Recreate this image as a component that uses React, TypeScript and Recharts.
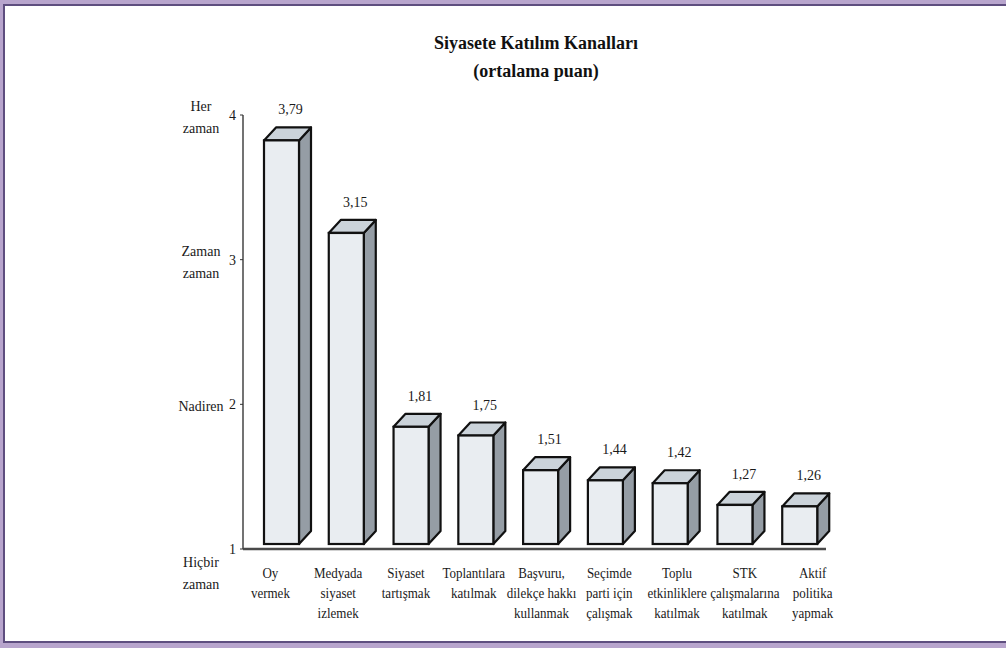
import { Bar, BarChart, LabelList, XAxis, YAxis } from "recharts";

const categories = [
  "Oy\nvermek",
  "Medyada\nsiyaset\nizlemek",
  "Siyaset\ntartışmak",
  "Toplantılara\nkatılmak",
  "Başvuru,\ndilekçe hakkı\nkullanmak",
  "Seçimde\nparti için\nçalışmak",
  "Toplu\netkinliklere\nkatılmak",
  "STK\nçalışmalarına\nkatılmak",
  "Aktif\npolitika\nyapmak",
];
const values = [3.79, 3.15, 1.81, 1.75, 1.51, 1.44, 1.42, 1.27, 1.26];
const yTicks = [1, 2, 3, 4];
const yTickNames = ["Hiçbir\nzaman", "Nadiren", "Zaman\nzaman", "Her\nzaman"];

const data = categories.map((name, i) => ({ name, value: values[i] }));

const FONT = "'Liberation Serif', 'Times New Roman', serif";
const SHIFT = 6; // front face offset inside band
const DX = 12; // depth x
const DY = 13; // depth y
const LIFT = 5;

function Box3D(props: any) {
  const { x, y, width, height } = props;
  if (height == null || height <= 0) return null;
  const fx = x + SHIFT;
  const fy = y - LIFT;
  const fb = y + height - LIFT;
  const w = width;
  const stroke = "#111";
  const sw = 2.2;
  return (
    <g>
      <polygon
        points={`${fx + w},${fy} ${fx + w + DX},${fy - DY} ${fx + w + DX},${fb - DY} ${fx + w},${fb}`}
        fill="#959da5"
        stroke={stroke}
        strokeWidth={sw}
        strokeLinejoin="round"
      />
      <polygon
        points={`${fx},${fy} ${fx + DX},${fy - DY} ${fx + w + DX},${fy - DY} ${fx + w},${fy}`}
        fill="#cbd3da"
        stroke={stroke}
        strokeWidth={sw}
        strokeLinejoin="round"
      />
      <rect x={fx} y={fy} width={w} height={fb - fy} fill="#e9edf1" stroke={stroke} strokeWidth={sw} />
    </g>
  );
}

function YTick(props: any) {
  const { x, y, payload, index } = props;
  const lines = yTickNames[index].split("\n");
  const center = index === 0 ? y + 24 : y + 2;
  const start = center - ((lines.length - 1) * 22) / 2;
  return (
    <g>
      <text x={x} y={y} dy="0.35em" textAnchor="end" fontFamily={FONT} fontSize={14} fill="#1a1a1a">
        {payload.value}
      </text>
      {lines.map((l: string, i: number) => (
        <text
          key={i}
          x={x - 35}
          y={start + i * 22}
          dy="0.35em"
          textAnchor="middle"
          fontFamily={FONT}
          fontSize={14}
          fill="#1a1a1a"
        >
          {l}
        </text>
      ))}
    </g>
  );
}

function XTick(props: any) {
  const { x, y, payload, index } = props;
  const lines = String(payload.value).split("\n");
  const cx = x - 5 + index * 3;
  return (
    <g>
      {lines.map((l: string, i: number) => (
        <text
          key={i}
          transform={`translate(${cx} ${y + 29 + i * 20}) scale(0.93 1)`}
          textAnchor="middle"
          fontFamily={FONT}
          fontSize={14}
          fill="#1a1a1a"
        >
          {l}
        </text>
      ))}
    </g>
  );
}

function ValueLabel(props: any) {
  const { x, y, width, value } = props;
  return (
    <text
      x={x + width / 2 + SHIFT + 9}
      y={y - 31}
      textAnchor="middle"
      fontFamily={FONT}
      fontSize={14}
      fill="#1a1a1a"
    >
      {String(value).replace(".", ",")}
    </text>
  );
}

export default function App() {
  return (
    <div
      style={{
        position: "absolute",
        top: 0,
        left: 0,
        width: 1006,
        height: 648,
        background: "#b8a5cd",
        overflow: "hidden",
      }}
    >
      <div
        style={{
          position: "absolute",
          left: 3,
          top: 4,
          width: 1010,
          height: 639,
          boxSizing: "border-box",
          background: "#fff",
          borderTop: "2px solid #5e4e7f",
          borderLeft: "2px solid #5e4e7f",
          borderBottom: "2px solid #5e4e7f",
        }}
      />
      <div
        style={{
          position: "absolute",
          left: 0,
          width: 1072,
          top: 29,
          textAlign: "center",
          fontFamily: FONT,
          fontWeight: "bold",
          fontSize: 18,
          lineHeight: "28px",
          color: "#111",
        }}
      >
        <div>Siyasete Katılım Kanalları</div>
        <div>(ortalama puan)</div>
      </div>
      <div style={{ position: "absolute", left: 0, top: 0 }}>
        <BarChart
          width={1006}
          height={648}
          data={data}
          margin={{ top: 115, right: 180, bottom: 19, left: 0 }}
          barSize={35}
        >
          <XAxis
            dataKey="name"
            height={80}
            interval={0}
            tickLine={false}
            tickSize={0}
            tickMargin={0}
            axisLine={{ stroke: "#4a4a4a", strokeWidth: 2.5 }}
            tick={<XTick />}
          />
          <YAxis
            width={243}
            domain={[1, 4]}
            ticks={yTicks}
            interval={0}
            tickSize={3}
            tickMargin={4}
            tickLine={{ stroke: "#333" }}
            axisLine={{ stroke: "#444", strokeWidth: 1.5 }}
            tick={<YTick />}
          />
          <Bar dataKey="value" shape={<Box3D />} isAnimationActive={false}>
            <LabelList dataKey="value" content={<ValueLabel />} />
          </Bar>
        </BarChart>
      </div>
    </div>
  );
}
